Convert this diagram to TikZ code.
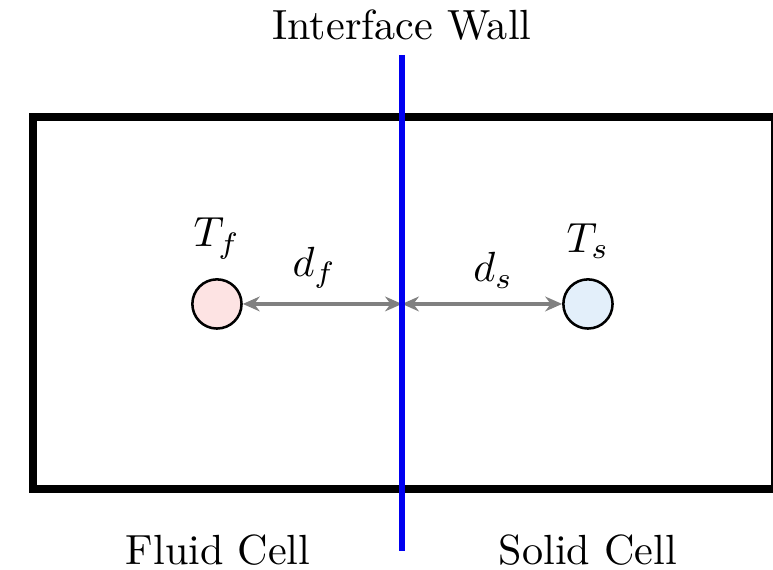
\documentclass[tikz,border=0pt]{standalone}
\usepackage{amsmath,amssymb}
\usepackage{tikz}
\usetikzlibrary{arrows.meta, positioning}
\definecolor{wallblue}{HTML}{0000F0}
\definecolor{fluidfill}{HTML}{FDE3E3}
\definecolor{solidfill}{HTML}{E3EFFA}
\definecolor{distgray}{HTML}{808080}

\begin{document}
\begin{tikzpicture}[x=1cm,y=1cm,
  cellpt/.style={circle, draw=black, line width=0.6pt, minimum size=0.41cm, inner sep=0pt},
  distarrow/.style={{Stealth[length=4pt,width=3.5pt]}-{Stealth[length=4pt,width=3.5pt]}, draw=distgray, line width=0.8pt}]
\useasboundingbox (0,0) rectangle (6.442,4.75);
% cell box, the right side runs out of the page
\draw[line width=1.7pt] (0.275,0.675) rectangle (6.455,3.775);
\node (fluid) [cellpt, fill=fluidfill, label={[label distance=1pt]above:$T_f$}] at (1.808,2.217) {};
\node (solid) [cellpt, fill=solidfill, label={[label distance=1pt]above:$T_s$}] at (4.9,2.217) {};
\coordinate (wallmid) at (3.35,2.217);
\draw[distarrow] (fluid) -- node[above=0pt, pos=0.45] {$d_f$} (wallmid);
\draw[distarrow] (wallmid) -- node[above=0pt, pos=0.57] {$d_s$} (solid);
% interface
\coordinate (walltop) at (3.35,4.292);
\coordinate (wallbot) at (3.35,0.158);
\draw[wallblue, line width=1.2pt] (walltop) -- (wallbot);
\node (wallname) at (3.35,4.54) {Interface Wall};
\node (fluidname) at (1.817,0.167) {Fluid Cell};
\node (solidname) at (4.9,0.167) {Solid Cell};
\end{tikzpicture}
\end{document}
